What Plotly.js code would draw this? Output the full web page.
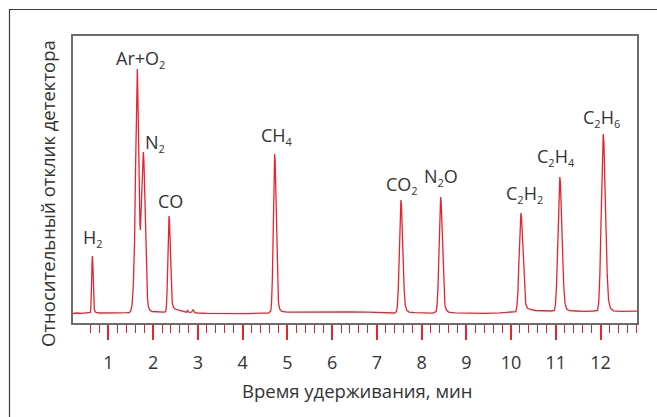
<!DOCTYPE html>
<html>
<head>
<meta charset="utf-8">
<script src="https://cdn.plot.ly/plotly-3.0.1.min.js"></script>
<style>
  html, body { margin: 0; padding: 0; background: #fff; }
  #chart { width: 657px; height: 417px; }
</style>
</head>
<body>
<div id="chart"></div>
<script>
// ---- Data (retention time, min / relative detector response) ----
const baseStartT = [0.21, 0.30, 0.40, 0.50, 0.57];
const baseStartS = [-0.5, 0, -0.3, 0.2, 0];

const h2T = [0.598, 0.607, 0.616, 0.625, 0.634, 0.639, 0.643, 0.648, 0.654, 0.665, 0.675, 0.686, 0.701, 0.724];
const h2S = [0.7, 3.6, 12, 28.5, 48, 54.6, 57, 54.6, 48, 28.5, 12, 4, 1.4, 0.5];

const base1T = [0.80, 0.95, 1.10, 1.25, 1.40];
const base1S = [0, 0.3, 0, 0.2, 0.3];

const arN2T = [1.47, 1.50, 1.53, 1.56, 1.585, 1.61, 1.63, 1.648, 1.665, 1.685, 1.705, 1.715, 1.73, 1.755, 1.772, 1.782, 1.795, 1.81, 1.825, 1.84, 1.858, 1.875, 1.895, 1.93, 1.97];
const arN2S = [0.5, 2, 8, 30, 70, 150, 210, 244, 205, 130, 90, 83, 100, 140, 157, 161, 152, 125, 90, 55, 30, 15, 6, 3, 1.5];

const base2T = [2.05, 2.15, 2.24];
const base2S = [1.2, 1.0, 0.8];

const coT = [2.281, 2.296, 2.311, 2.326, 2.341, 2.349, 2.356, 2.365, 2.374, 2.392, 2.410, 2.428, 2.452, 2.491, 2.55, 2.62, 2.70, 2.745, 2.77, 2.80, 2.86, 2.895, 2.93, 3.00];
const coS = [1.3, 6, 20, 48.5, 81.5, 93, 97, 93, 81.5, 48.5, 22, 10, 6, 4, 3, 2, 1.2, 0.8, 2.5, 0.6, 0.8, 3.5, 0.4, 0];

const base3T = [3.2, 3.5, 3.8, 4.1, 4.4, 4.58];
const base3S = [-0.3, -0.5, -0.3, -0.6, -0.2, 0];

const ch4T = [4.630, 4.647, 4.665, 4.682, 4.700, 4.708, 4.717, 4.728, 4.738, 4.759, 4.780, 4.801, 4.829, 4.875];
const ch4S = [2, 10, 33.4, 79.5, 133.6, 152.3, 159, 152.3, 133.6, 79.5, 33.4, 11, 4, 1.5];

const base4T = [5.0, 5.3, 5.7, 6.0, 6.4, 6.8, 7.2, 7.40];
const base4S = [0.8, 1.0, 0.7, 1.1, 1.2, 0.8, 0.4, 0];

const co2T = [7.439, 7.459, 7.479, 7.499, 7.519, 7.529, 7.539, 7.551, 7.563, 7.587, 7.611, 7.635, 7.667, 7.719];
const co2S = [1.5, 7, 23.7, 56.5, 95, 108, 113, 108, 95, 56.5, 23.7, 8, 2.8, 0.9];

const base5T = [7.85, 8.05, 8.25];
const base5S = [0.3, 0, -0.2];

const n2oT = [8.326, 8.346, 8.366, 8.386, 8.406, 8.416, 8.426, 8.438, 8.450, 8.474, 8.498, 8.522, 8.554, 8.606];
const n2oS = [1.5, 7.3, 24.4, 58, 97.4, 111, 116, 111, 97.4, 58, 24.4, 8.1, 2.9, 0.9];

const base6T = [8.75, 9.0, 9.4, 9.75, 10.0];
const base6S = [0.2, -0.2, -0.3, 0.2, 0.8];

const c2h2T = [10.108, 10.130, 10.153, 10.175, 10.198, 10.209, 10.220, 10.234, 10.247, 10.274, 10.301, 10.328, 10.364, 10.423];
const c2h2S = [1.3, 6.3, 21, 50, 84, 95.8, 100, 95.8, 84, 50, 22, 9, 5, 3.5];

const base7T = [10.55, 10.75, 10.90];
const base7S = [2.5, 2, 2];

const c2h4T = [10.970, 10.994, 11.018, 11.042, 11.066, 11.078, 11.090, 11.104, 11.119, 11.148, 11.176, 11.205, 11.244, 11.306];
const c2h4S = [2.5, 9.5, 29, 68, 114, 130, 136, 130, 114, 68, 29, 10, 4, 2.3];

const base8T = [11.45, 11.65, 11.85];
const base8S = [2, 1.6, 2];

const c2h6T = [11.935, 11.960, 11.985, 12.010, 12.035, 12.048, 12.060, 12.075, 12.090, 12.120, 12.150, 12.180, 12.220, 12.285];
const c2h6S = [2.5, 11, 37.6, 89.5, 150, 171.5, 179, 171.5, 150, 89.5, 37.6, 12.5, 5, 2.2];

const baseEndT = [12.45, 12.65, 12.815];
const baseEndS = [1.6, 1.3, 1.8];

// Peak labels (subscripts written small)
const SUB = d => `<sub><span style="font-size:11px">${d}</span></sub>`;
const peakLabels = ['H' + SUB(2), 'Ar+O' + SUB(2), 'N' + SUB(2), 'CO', 'CH' + SUB(4), 'CO' + SUB(2), 'N' + SUB(2) + 'O', 'C' + SUB(2) + 'H' + SUB(2), 'C' + SUB(2) + 'H' + SUB(4), 'C' + SUB(2) + 'H' + SUB(6)];
const labelT = [0.66, 1.72, 2.04, 2.40, 4.77, 7.56, 8.43, 10.31, 11.01, 12.02];
const labelS = [75, 254, 170, 112, 177, 128, 136, 119, 156, 195];

// Axis ticks
const tickValues = [1, 2, 3, 4, 5, 6, 7, 8, 9, 10, 11, 12];
const tickText = ['1', '2', '3', '4', '5', '6', '7', '8', '9', '10', '11', '12'];
const xTitle = 'Время удерживания, мин';
const yTitle = 'Относительный отклик детектора';

// ---- Build ----
const timeAll = [].concat(baseStartT, h2T, base1T, arN2T, base2T, coT, base3T, ch4T, base4T, co2T, base5T, n2oT, base6T, c2h2T, base7T, c2h4T, base8T, c2h6T, baseEndT);
const sigAll = [].concat(baseStartS, h2S, base1S, arN2S, base2S, coS, base3S, ch4S, base4S, co2S, base5S, n2oS, base6S, c2h2S, base7S, c2h4S, base8S, c2h6S, baseEndS);

const minorTicks = [];
for (let i = 3; i <= 64; i++) {
  const v = Math.round(i * 0.2 * 10) / 10;
  if (Math.abs(v - Math.round(v)) > 1e-6) minorTicks.push(v);
}

const RED = '#e8232d';
const TXT = '#333333';
const FONT = 'Open Sans, Noto Sans, sans-serif';

// layout geometry (px)
const W = 657, H = 417, L = 73, R = 20, T = 36, B = 94;
const pw = W - L - R, ph = H - T - B;
const px2x = p => (p - L) / pw;
const py2y = p => (H - B - p) / ph;

const annotations = peakLabels.map((txt, i) => ({
  x: labelT[i], y: labelS[i], xref: 'x', yref: 'y',
  text: txt, showarrow: false, xanchor: 'center', yanchor: 'middle',
  font: { family: FONT, size: 18, color: TXT }
}));
annotations.push({
  x: px2x(357), y: py2y(390), xref: 'paper', yref: 'paper',
  text: xTitle, showarrow: false, xanchor: 'center', yanchor: 'middle',
  font: { family: FONT, size: 18.5, color: TXT }
});
annotations.push({
  x: px2x(48), y: py2y(194), xref: 'paper', yref: 'paper',
  text: yTitle, showarrow: false, textangle: -90, xanchor: 'center', yanchor: 'middle',
  font: { family: FONT, size: 18.5, color: TXT }
});

const layout = {
  width: W, height: H,
  margin: { l: L, r: R, t: T, b: B, pad: 0 },
  paper_bgcolor: '#ffffff', plot_bgcolor: '#ffffff',
  showlegend: false,
  font: { family: FONT, color: TXT },
  xaxis: {
    range: [0.21, 12.815],
    showgrid: false, zeroline: false,
    showline: true, mirror: true, linecolor: '#6b6b6b', linewidth: 2,
    ticks: 'outside', ticklen: 15, tickwidth: 2, tickcolor: RED,
    tickmode: 'array', tickvals: tickValues, ticktext: tickText,
    ticklabelstandoff: 7,
    tickfont: { family: FONT, size: 18, color: TXT },
    minor: { tickmode: 'array', tickvals: minorTicks, ticks: 'outside', ticklen: 8, tickwidth: 1, tickcolor: RED, showgrid: false }
  },
  yaxis: {
    range: [-10, 277],
    showgrid: false, zeroline: false, showticklabels: false, ticks: '',
    showline: true, mirror: true, linecolor: '#6b6b6b', linewidth: 2
  },
  shapes: [{
    type: 'path', xref: 'paper', yref: 'paper',
    path: `M ${px2x(9.5)} ${py2y(430)} L ${px2x(9.5)} ${py2y(9.5)} L ${px2x(670)} ${py2y(9.5)}`,
    line: { color: '#3a3a3a', width: 1.2 }
  }],
  annotations: annotations
};

Plotly.newPlot('chart', [{
  type: 'scatter', mode: 'lines',
  x: timeAll, y: sigAll,
  line: { color: RED, width: 1.3 },
  hoverinfo: 'skip'
}], layout, { displayModeBar: false, staticPlot: true });
</script>
</body>
</html>
